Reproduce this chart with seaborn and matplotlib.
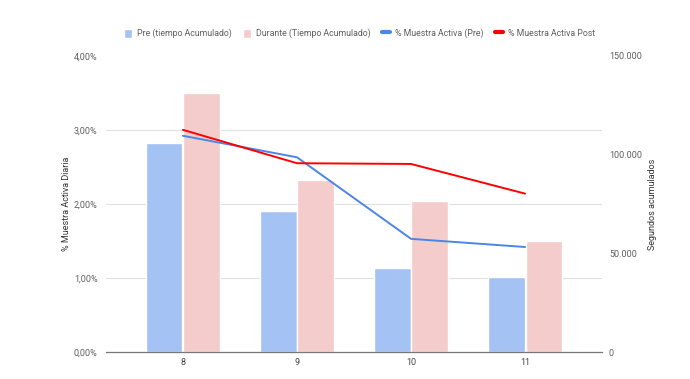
import numpy as np
import pandas as pd
import matplotlib
matplotlib.use("Agg")
import matplotlib.pyplot as plt
from matplotlib.patches import Patch
from matplotlib.lines import Line2D
from matplotlib.ticker import FuncFormatter, FixedLocator
import seaborn as sns

semanas = ["8", "9", "10", "11"]
pre_segundos = [105600, 71300, 42600, 38200]
durante_segundos = [131300, 87100, 76500, 56300]
pct_pre = [2.92, 2.63, 1.53, 1.42]
pct_post = [3.00, 2.55, 2.54, 2.14]

serie_pre = "Pre (tiempo Acumulado)"
serie_dur = "Durante (Tiempo Acumulado)"
serie_lpre = "% Muestra Activa (Pre)"
serie_lpost = "% Muestra Activa Post"

c_pre_bar = "#a4c2f4"
c_dur_bar = "#f4cccc"
c_pre_line = "#4a86e8"
c_post_line = "#ff0000"
txt = "#5f5f5f"

sns.set_style("white")
plt.rcParams["font.family"] = ["Roboto", "DejaVu Sans"]

bars = pd.DataFrame({
    "semana": semanas * 2,
    "segundos": pre_segundos + durante_segundos,
    "serie": [serie_pre] * len(semanas) + [serie_dur] * len(semanas),
})
idx = list(range(len(semanas)))
lines = pd.DataFrame({
    "x": idx * 2,
    "pct": pct_pre + pct_post,
    "serie": [serie_lpre] * len(semanas) + [serie_lpost] * len(semanas),
})

fig = plt.figure(figsize=(6.9, 3.79), dpi=100)
ax = fig.add_axes([0.1536, 0.0705, 0.7189, 0.7825])
sns.barplot(data=bars, x="semana", y="segundos", hue="serie", order=semanas,
            palette=[c_pre_bar, c_dur_bar], saturation=1, width=0.655, gap=0.025,
            ax=ax, legend=False, zorder=2)
ax.set_xlim(-0.675, len(semanas) - 1 + 0.675)
ax.set_ylim(0, 150000)

ax2 = ax.twinx()
sns.lineplot(data=lines, x="x", y="pct", hue="serie",
             palette=[c_pre_line, c_post_line], lw=1.4, ax=ax2, legend=False)

# bar axis -> right side
ax.yaxis.tick_right()
ax.yaxis.set_label_position("right")
ax.set_yticks([0, 50000, 100000, 150000])
ax.yaxis.set_major_formatter(FuncFormatter(lambda v, p: f"{int(v):,}".replace(",", ".")))
ax.yaxis.set_minor_locator(FixedLocator(np.linspace(0, 150000, 5)))
ax.grid(False)
ax.grid(True, which="minor", axis="y", color="#e0e0e0", lw=0.8)
ax.set_axisbelow(True)
ax.tick_params(axis="y", which="both", length=0, labelsize=6.5, labelcolor=txt, pad=5,
               left=False, labelleft=False, right=True, labelright=True)
ax.tick_params(axis="x", length=0, labelsize=6.5, labelcolor="#444444", pad=4)
ax.set_xlabel("")
ax.set_ylabel("Segundos acumulados", fontsize=6.5, color="#333333", labelpad=4)
for s in ["top", "left", "right"]:
    ax.spines[s].set_visible(False)
ax.spines["bottom"].set_color("#777777")
ax.spines["bottom"].set_linewidth(0.9)

# line axis -> left side
ax2.set_ylim(0, 4)
ax2.yaxis.tick_left()
ax2.yaxis.set_label_position("left")
ax2.set_yticks([0, 1, 2, 3, 4])
ax2.yaxis.set_major_formatter(FuncFormatter(lambda v, p: f"{v:.2f}".replace(".", ",") + "%"))
ax2.tick_params(axis="y", length=0, labelsize=6.5, labelcolor=txt, pad=6,
                right=False, labelright=False, left=True, labelleft=True)
ax2.set_ylabel("% Muestra Activa Diaria", fontsize=6.5, color="#333333", labelpad=2)
ax2.set_xlabel("")
for s in ["top", "left", "right", "bottom"]:
    ax2.spines[s].set_visible(False)
ax2.set_xlim(ax.get_xlim())

handles = [
    Patch(facecolor=c_pre_bar, label=serie_pre),
    Patch(facecolor=c_dur_bar, label=serie_dur),
    Line2D([], [], color=c_pre_line, lw=3, label=serie_lpre),
    Line2D([], [], color=c_post_line, lw=3, label=serie_lpost),
]
fig.legend(handles=handles, loc="center", bbox_to_anchor=(0.521, 0.912), ncol=4,
           frameon=False, fontsize=6.3, handlelength=0.9, handleheight=1.2,
           handletextpad=0.6, columnspacing=1.3, labelcolor=txt)

fig.savefig("out.png", dpi=100)
